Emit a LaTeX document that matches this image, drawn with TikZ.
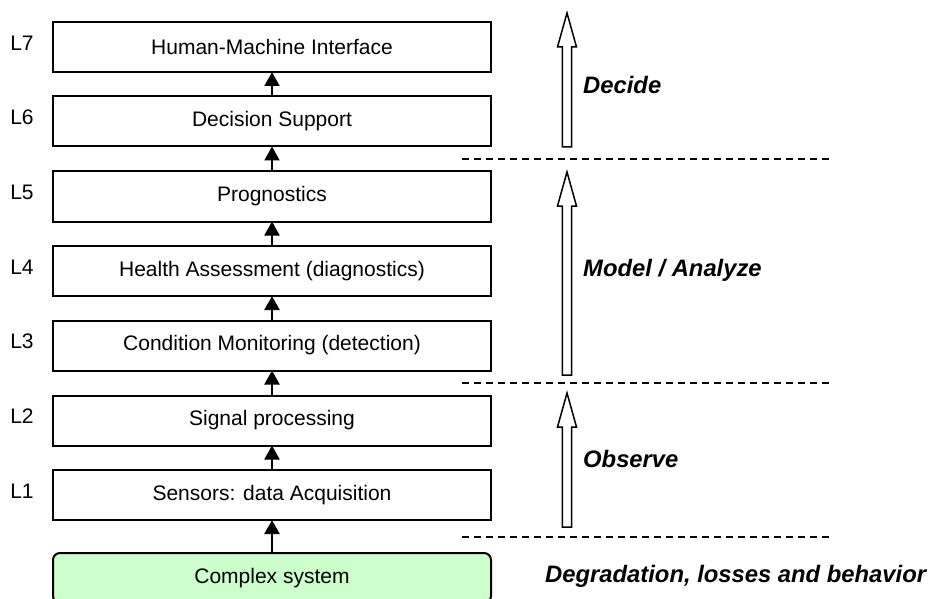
\documentclass[tikz,border=0pt]{standalone}
\usepackage{fontspec}
\setmainfont{Liberation Sans}
\usetikzlibrary{arrows.meta}
\tikzset{
  layer/.style={draw, line width=2pt, minimum width=438pt, minimum height=50pt, inner sep=0pt, outer sep=0pt, font=\fontsize{21}{25}\selectfont},
  lvl/.style={inner sep=0pt, font=\fontsize{21}{25}\selectfont},
  phase/.style={anchor=west, inner sep=0pt, font=\fontsize{23.8}{28}\selectfont\bfseries\itshape},
  up/.style={line width=2pt, -{Triangle[length=14pt,width=15pt]}},
  sep/.style={line width=1.5pt, dash pattern=on 7pt off 5pt},
  hollow/.style={line width=1.5pt, fill=white, line join=miter}
}
\begin{document}
\begin{tikzpicture}[x=1pt,y=-1pt]
\useasboundingbox (0,0) rectangle (932,599);
\definecolor{sysgreen}{HTML}{CCFFCC}
\node[layer] (l7) at (272,47) {Human-Machine Interface};
\node[layer] (l6) at (272,121.5) {Decision Support};
\node[layer] (l5) at (272,196.5) {Prognostics};
\node[layer] (l4) at (272,271) {Health Assessment (diagnostics)};
\node[layer] (l3) at (272,345.5) {Condition Monitoring (detection)};
\node[layer] (l2) at (272,420.5) {Signal processing};
\node[layer] (l1) at (272,495) {Sensors: data Acquisition};
\node[layer, fill=sysgreen, rounded corners=7pt] (sys) at (272,578) {Complex system};
\foreach \i/\y in {7/47,6/121.5,5/196.5,4/271,3/345.5,2/420.5,1/495}
  \node[lvl] (n\i) at (22,\y-4) {L\i};
\foreach \a/\b in {sys/l1,l1/l2,l2/l3,l3/l4,l4/l5,l5/l6,l6/l7}
  \draw[up] (\a) -- (\b);
\foreach \y in {159,383,537}
  \draw[sep] (462,\y) -- (833,\y);
\foreach \t/\b in {13/147,172/375,393/527}
  \draw[hollow] (562.3,\b) -- (562.3,\t+34) -- (557.5,\t+34) -- (567,\t) -- (576.5,\t+34) -- (571.7,\t+34) -- (571.7,\b) -- cycle;
\node[phase] (decide) at (583,85) {Decide};
\node[phase] (model) at (583,270) {Model / Analyze};
\node[phase] (observe) at (583,459) {Observe};
\node[phase] (degr) at (545,576) {Degradation, losses and behavior};
\end{tikzpicture}
\end{document}
